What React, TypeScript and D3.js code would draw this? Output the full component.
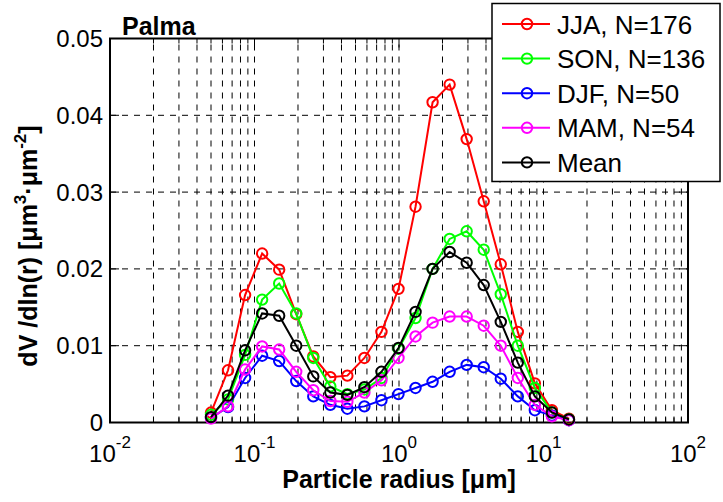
import React from "react";
import * as d3 from "d3";

const radii = [0.05, 0.065604, 0.086077, 0.112939, 0.148184, 0.194429, 0.255105, 0.334716, 0.439173, 0.576227, 0.756052, 0.991996, 1.301571, 1.707757, 2.240702, 2.939966, 3.857452, 5.06126, 6.640745, 8.713145, 11.432287, 15.0];

const jja = [0.0013, 0.0068, 0.0166, 0.022, 0.0199, 0.0141, 0.0086, 0.0059, 0.0061, 0.0084, 0.0118, 0.0174, 0.0281, 0.0417, 0.044, 0.0369, 0.0288, 0.0206, 0.0118, 0.0051, 0.0016, 0.0005];
const son = [0.001, 0.003, 0.0088, 0.016, 0.0181, 0.0142, 0.0084, 0.0047, 0.0037, 0.0043, 0.0058, 0.0096, 0.0136, 0.02, 0.0239, 0.0249, 0.0225, 0.0167, 0.01, 0.0045, 0.0013, 0.0004];
const djf = [0.0006, 0.002, 0.0058, 0.0087, 0.008, 0.0054, 0.0034, 0.0023, 0.0018, 0.0021, 0.0029, 0.0037, 0.0045, 0.0053, 0.0066, 0.0075, 0.0072, 0.0057, 0.0034, 0.0016, 0.0009, 0.0003];
const mam = [0.0005, 0.0021, 0.0069, 0.0099, 0.0095, 0.0066, 0.0042, 0.0028, 0.0027, 0.0039, 0.0055, 0.0084, 0.0112, 0.013, 0.0138, 0.0138, 0.0126, 0.01, 0.0058, 0.0023, 0.0008, 0.0003];
const meanV = [0.0007, 0.0035, 0.0094, 0.0142, 0.0139, 0.01, 0.006, 0.0039, 0.0036, 0.0046, 0.0066, 0.0097, 0.0144, 0.02, 0.0222, 0.0208, 0.0179, 0.0131, 0.0078, 0.0034, 0.0013, 0.0004];

const seriesNames = ["JJA, N=176", "SON, N=136", "DJF, N=50", "MAM, N=54", "Mean"];
const seriesColors = ["#ff0000", "#00ff00", "#0000ff", "#ff00ff", "#000000"];
const seriesValues = [jja, son, djf, mam, meanV];

const yTicks = [0, 0.01, 0.02, 0.03, 0.04, 0.05];
const yTickLabels = ["0", "0.01", "0.02", "0.03", "0.04", "0.05"];
const xExponents = [-2, -1, 0, 1, 2];

const W = 723, H = 502;
const L = 110, R = 688, T = 38.5, B = 422.5;
const FONT = "'Liberation Sans', Arial, Helvetica, sans-serif";

export default function App() {
  const x = d3.scaleLog().domain([0.01, 100]).range([L, R]);
  const y = d3.scaleLinear().domain([0, 0.05]).range([B, T]);

  const minor: number[] = [];
  for (let e = -2; e < 2; e++) {
    for (let k = 1; k <= 9; k++) minor.push(k * Math.pow(10, e));
  }
  minor.push(100);
  const gridX = minor.filter((v) => v > 0.0101 && v < 99);

  const line = d3
    .line<number>()
    .x((_, i) => x(radii[i]))
    .y((d) => y(d));

  const legX = 492, legY = 3.5, legW = 228, legH = 178;

  return (
    <svg
      width={W}
      height={H}
      style={{ position: "absolute", left: 0, top: 0, background: "#fff" }}
      fontFamily={FONT}
    >
      <rect x={0} y={0} width={W} height={H} fill="#fff" />
      {/* grid */}
      {gridX.map((v, i) => (
        <line key={"gx" + i} x1={x(v)} x2={x(v)} y1={B} y2={T} stroke="#000" strokeWidth={1} strokeDasharray="6,6" />
      ))}
      {yTicks.slice(1, -1).map((v, i) => (
        <line key={"gy" + i} x1={L} x2={R} y1={y(v)} y2={y(v)} stroke="#000" strokeWidth={1} strokeDasharray="6,6" />
      ))}
      {/* ticks */}
      {minor.map((v, i) => {
        const major = Math.abs(Math.log10(v) - Math.round(Math.log10(v))) < 1e-9;
        const len = major ? 9 : 5;
        return (
          <g key={"tx" + i}>
            <line x1={x(v)} x2={x(v)} y1={B} y2={B - len} stroke="#000" strokeWidth={1} />
            <line x1={x(v)} x2={x(v)} y1={T} y2={T + len} stroke="#000" strokeWidth={1} />
          </g>
        );
      })}
      {yTicks.map((v, i) => (
        <g key={"ty" + i}>
          <line x1={L} x2={L + 9} y1={y(v)} y2={y(v)} stroke="#000" strokeWidth={1} />
          <line x1={R} x2={R - 9} y1={y(v)} y2={y(v)} stroke="#000" strokeWidth={1} />
        </g>
      ))}
      {/* axes box */}
      <rect x={L} y={T} width={R - L} height={B - T} fill="none" stroke="#000" strokeWidth={2} />
      {/* series */}
      {seriesValues.map((vals, si) => (
        <g key={"s" + si}>
          <path d={line(vals) || ""} fill="none" stroke={seriesColors[si]} strokeWidth={2} />
          {vals.map((v, i) => (
            <circle key={i} cx={x(radii[i])} cy={y(v)} r={5.2} fill="none" stroke={seriesColors[si]} strokeWidth={2} />
          ))}
        </g>
      ))}
      {/* y tick labels */}
      {yTicks.map((v, i) => (
        <text key={"yl" + i} x={103} y={y(v) + 8.5} textAnchor="end" fontSize={24} fill="#000">
          {yTickLabels[i]}
        </text>
      ))}
      {/* x tick labels */}
      {xExponents.map((e, i) => (
        <text key={"xl" + i} x={x(Math.pow(10, e))} y={462} textAnchor="middle" fontSize={24} fill="#000">
          10
          <tspan dy={-14} fontSize={17}>{String(e)}</tspan>
        </text>
      ))}
      {/* axis labels */}
      <text x={(L + R) / 2} y={488} textAnchor="middle" fontSize={25} fontWeight="bold" fill="#000">
        Particle radius [μm]
      </text>
      <text
        transform={`translate(37, ${246}) rotate(-90)`}
        textAnchor="middle"
        fontSize={25}
        fontWeight="bold"
        fill="#000"
      >
        dV /dln(r) [μm
        <tspan dy={-11} fontSize={17}>3</tspan>
        <tspan dy={11}>·μm</tspan>
        <tspan dy={-11} fontSize={17}>-2</tspan>
        <tspan dy={11}>]</tspan>
      </text>
      {/* title */}
      <text x={122} y={35} fontSize={25} fontWeight="bold" fill="#000">
        Palma
      </text>
      {/* legend */}
      <rect x={legX} y={legY} width={legW} height={legH} fill="#fff" stroke="#000" strokeWidth={1.5} />
      {seriesNames.map((n, i) => {
        const cy = 24 + i * 34.6;
        return (
          <g key={"lg" + i}>
            <line x1={502} x2={550} y1={cy} y2={cy} stroke={seriesColors[i]} strokeWidth={2} />
            <circle cx={527} cy={cy} r={5.2} fill="none" stroke={seriesColors[i]} strokeWidth={2} />
            <text x={557} y={cy + 9.5} fontSize={26} fill="#000">
              {n}
            </text>
          </g>
        );
      })}
    </svg>
  );
}
